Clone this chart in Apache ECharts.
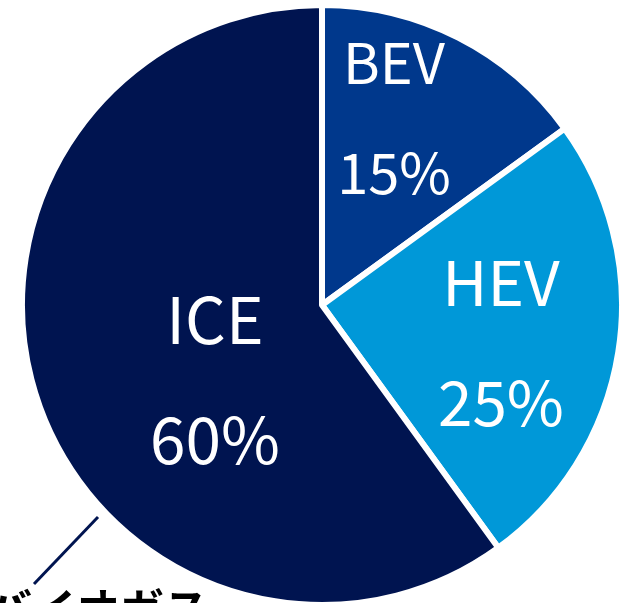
<!DOCTYPE html>
<html>
<head>
<meta charset="utf-8">
<script src="https://cdn.jsdelivr.net/npm/echarts@6/dist/echarts.min.js"></script>
<style>
  html, body { margin: 0; padding: 0; background: #fff; }
  #chart { width: 625px; height: 603px; }
</style>
</head>
<body>
<div id="chart"></div>
<script>
// data
var names = ["BEV", "HEV", "ICE"];
var shares = [15, 25, 60];
var colors = ["#00388c", "#0098d8", "#001450"];
var calloutText = "バイオガス";

// per slice label tweaks, offsets measured from the pie centre
var labelSize = [56, 62, 64];
var labelLine = [110, 120, 120];
var labelOffset = [[72, -187], [179, 37], [-107, 75]];

var myChart = echarts.init(document.getElementById("chart"));

var data = names.map(function (n, i) {
  return {
    name: n,
    value: shares[i],
    itemStyle: { color: colors[i] },
    label: {
      fontSize: labelSize[i],
      lineHeight: labelLine[i],
      offset: labelOffset[i],
    },
  };
});

var option = {
  animation: false,
  series: [
    {
      type: "pie",
      center: [322, 305],
      radius: [0, 300],
      startAngle: 90,
      clockwise: true,
      avoidLabelOverlap: false,
      data: data,
      itemStyle: {
        borderColor: "#fff",
        borderWidth: 6,
      },
      label: {
        show: true,
        position: "center",
        color: "#fff",
        fontFamily: "Noto Sans CJK JP",
        formatter: "{b}\n{c}%",
      },
      labelLayout: { hideOverlap: false },
      labelLine: { show: false },
      emphasis: { disabled: true },
    },
  ],
  graphic: [
    {
      type: "line",
      shape: { x1: 98, y1: 517, x2: 34, y2: 584 },
      style: { stroke: "#001450", lineWidth: 3 },
    },
    {
      type: "text",
      x: -12,
      y: 587,
      style: {
        text: calloutText,
        fill: "#000",
        font: "bold 44px 'Noto Sans CJK JP'",
        textVerticalAlign: "top",
      },
    },
  ],
};
option && myChart.setOption(option);
</script>
</body>
</html>
